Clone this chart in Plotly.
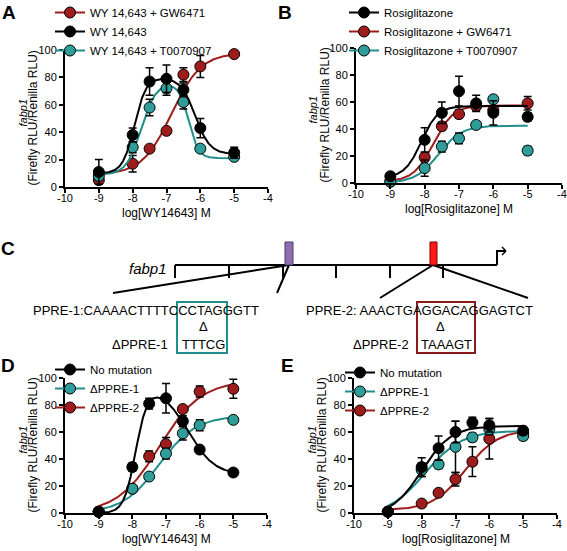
import numpy as np
import plotly.graph_objects as go

W, H = 567, 551

# ---------------- data ----------------
conc = [-9, -8, -7.5, -7, -6.5, -6, -5]

# Panel A
A_gw = [5, 17, 28, 41, 82, 88, 97]
A_gw_err = [2, 6, 2, 2, 5, 8, 2]
A_wy = [11, 38, 77, 79, 71, 43, 25]
A_wy_err = [9, 5, 10, 10, 5, 7, 4]
A_t = [8, 29, 58, 72, 62, 28, 22]
A_t_err = [2, 4, 6, 5, 5, 2, 2]
A_names = ["WY 14,643 + GW6471", "WY 14,643", "WY 14,643 + T0070907"]

# Panel B
B_rosi = [5, 32, 52, 68, 59, 52, 49]
B_rosi_err = [1, 9, 8, 11, 6, 9, 3]
B_gw = [1, 19, 42, 51, 57, 54, 59]
B_gw_err = [1, 3, 3, 3, 3, 3, 5]
B_t = [1, 11, 27, 33, 43, 62, 24]
B_t_err = [1, 6, 4, 4, 2, 2, 3]
B_names = ["Rosiglitazone", "Rosiglitazone + GW6471", "Rosiglitazone + T0070907"]

# Panel D
D_nm = [1, 34, 81, 85, 68, 47, 30]
D_nm_err = [1, 3, 4, 11, 4, 2, 2]
D_p1 = [1, 18, 27, 44, 59, 65, 69]
D_p1_err = [1, 2, 2, 4, 5, 4, 2]
D_p2 = [1, 18, 42, 51, 77, 90, 92]
D_p2_err = [1, 2, 4, 5, 2, 4, 7]
DE_names = ["No mutation", "ΔPPRE-1", "ΔPPRE-2"]

# Panel E
E_nm = [1, 34, 48, 60, 67, 65, 61]
E_nm_err = [2, 7, 9, 8, 4, 5, 3]
E_p1 = [1, 32, 36, 49, 56, 62, 57]
E_p1_err = [2, 5, 3, 19, 3, 4, 3]
E_p2 = [1, 7, 15, 25, 38, 55, 59]
E_p2_err = [1, 2, 2, 5, 11, 15, 3]

# fitted-curve parameters (sigmoid: bottom, top, logEC50, hill)
# (bell: bottom1, top, bottom2, logEC50_1, n1, logEC50_2, n2)
A_gw_fit = [9, 98, -6.85, 1.0]
A_wy_fit = [10, 80, 24, -7.95, 2.5, -6.15, 2.0]
A_t_fit = [9, 76, 21, -7.75, 2.0, -6.35, 3.0]
B_rosi_fit = [4, 57, -8.1, 1.8]
B_gw_fit = [1, 57.5, -7.75, 1.5]
B_t_fit = [0, 42.5, -7.6, 1.3]
D_nm_fit = [0, 94, 28, -7.9, 2.5, -6.355, 1.09]
D_p1_fit = [0, 72, -7.2, 0.8]
D_p2_fit = [0, 98, -7.2, 0.7]
E_nm_fit = [-2, 64.5, -8.0, 1.0]
E_p1_fit = [-2, 61, -7.9, 0.8]
E_p2_fit = [2, 62, -6.7, 0.9]

x_ticks = [-10, -9, -8, -7, -6, -5, -4]
y_ticks = [0, 20, 40, 60, 80, 100]

RED = "#9e1c1c"
TEAL = "#2f9e9a"
TEAL_LINE = "#1f8f8b"
BLACK = "#000000"
FONT = "Liberation Sans, Arial, sans-serif"

# ---------------- helpers ----------------
xs = np.linspace(-9, -5, 300)


def sigmoid(p):
    b, t, ec, n = p
    return b + (t - b) / (1 + 10 ** ((ec - xs) * n))


def bell(p):
    b1, t, b2, ec1, n1, ec2, n2 = p
    s1 = 1 / (1 + 10 ** ((ec1 - xs) * n1))
    s2 = 1 / (1 + 10 ** ((ec2 - xs) * n2))
    return b1 + (t - b1) * s1 - (t - b2) * s2


def X(p):
    return p / W


def Y(p):
    return 1 - p / H


fig = go.Figure()


def add_series(k, vals, errs, curve, name, fill, lcolor):
    xa = "x" if k == 1 else "x%d" % k
    ya = "y" if k == 1 else "y%d" % k
    fig.add_trace(go.Scatter(x=xs, y=curve, mode="lines", xaxis=xa, yaxis=ya,
                             line=dict(color=lcolor, width=2), showlegend=False,
                             hoverinfo="skip"))
    fig.add_trace(go.Scatter(x=conc, y=vals, mode="markers", xaxis=xa, yaxis=ya,
                             error_y=dict(type="data", array=errs, color="black",
                                          thickness=1.5, width=4),
                             marker=dict(size=11, color=fill,
                                         line=dict(color="black", width=1)),
                             cliponaxis=False, showlegend=False, name=name))


def add_legend_item(name, fill, lcolor, legend):
    fig.add_trace(go.Scatter(x=[None], y=[None], mode="lines+markers", name=name,
                             line=dict(color=lcolor, width=2),
                             marker=dict(size=11, color=fill,
                                         line=dict(color="black", width=1)),
                             legend=legend, showlegend=True))


# Panel A
add_series(1, A_gw, A_gw_err, sigmoid(A_gw_fit), A_names[0], RED, RED)
add_series(1, A_t, A_t_err, bell(A_t_fit), A_names[2], TEAL, TEAL_LINE)
add_series(1, A_wy, A_wy_err, bell(A_wy_fit), A_names[1], BLACK, BLACK)
add_legend_item(A_names[0], RED, RED, "legend")
add_legend_item(A_names[1], BLACK, BLACK, "legend")
add_legend_item(A_names[2], TEAL, TEAL_LINE, "legend")

# Panel B
add_series(2, B_gw, B_gw_err, sigmoid(B_gw_fit), B_names[1], RED, RED)
add_series(2, B_t, B_t_err, sigmoid(B_t_fit), B_names[2], TEAL, TEAL_LINE)
add_series(2, B_rosi, B_rosi_err, sigmoid(B_rosi_fit), B_names[0], BLACK, BLACK)
add_legend_item(B_names[0], BLACK, BLACK, "legend2")
add_legend_item(B_names[1], RED, RED, "legend2")
add_legend_item(B_names[2], TEAL, TEAL_LINE, "legend2")

# Panel D
add_series(3, D_p2, D_p2_err, sigmoid(D_p2_fit), DE_names[2], RED, RED)
add_series(3, D_p1, D_p1_err, sigmoid(D_p1_fit), DE_names[1], TEAL, TEAL_LINE)
add_series(3, D_nm, D_nm_err, bell(D_nm_fit), DE_names[0], BLACK, BLACK)
add_legend_item(DE_names[0], BLACK, BLACK, "legend3")
add_legend_item(DE_names[1], TEAL, TEAL_LINE, "legend3")
add_legend_item(DE_names[2], RED, RED, "legend3")

# Panel E
add_series(4, E_p2, E_p2_err, sigmoid(E_p2_fit), DE_names[2], RED, RED)
add_series(4, E_p1, E_p1_err, sigmoid(E_p1_fit), DE_names[1], TEAL, TEAL_LINE)
add_series(4, E_nm, E_nm_err, sigmoid(E_nm_fit), DE_names[0], BLACK, BLACK)
add_legend_item(DE_names[0], BLACK, BLACK, "legend4")
add_legend_item(DE_names[1], TEAL, TEAL_LINE, "legend4")
add_legend_item(DE_names[2], RED, RED, "legend4")

# ---------------- axes ----------------
panels = {
    1: dict(x0=65, x1=268, y0=50, y1=187),
    2: dict(x0=356, x1=562, y0=48, y1=183),
    3: dict(x0=65, x1=267, y0=378, y1=513),
    4: dict(x0=354, x1=557, y0=378, y1=513),
}
xtitles = {1: "log[WY14643] M", 2: "log[Rosiglitazone] M",
           3: "log[WY14643] M", 4: "log[Rosiglitazone] M"}

axis_common = dict(showline=True, linecolor="black", linewidth=2, ticks="outside",
                   ticklen=4, tickwidth=2, tickcolor="black", showgrid=False,
                   zeroline=False, tickfont=dict(family=FONT, size=11, color="black"),
                   fixedrange=True, automargin=False)

annotations = []


def note(x, y, text, size=12, angle=0, xanchor="center"):
    annotations.append(dict(x=X(x), y=Y(y), xref="paper", yref="paper", text=text,
                            showarrow=False, textangle=angle, xanchor=xanchor,
                            yanchor="middle",
                            font=dict(family=FONT, size=size, color="black")))


for k, p in panels.items():
    sx = "xaxis" if k == 1 else "xaxis%d" % k
    sy = "yaxis" if k == 1 else "yaxis%d" % k
    ya = "y" if k == 1 else "y%d" % k
    xa = "x" if k == 1 else "x%d" % k
    fig.layout[sx] = dict(domain=[X(p["x0"]), X(p["x1"])], range=[-10, -4],
                          anchor=ya, tickvals=x_ticks, ticklabelstandoff=-4,
                          ticktext=[str(v) for v in x_ticks], **axis_common)
    fig.layout[sy] = dict(domain=[Y(p["y1"]), Y(p["y0"])], range=[0, 100],
                          anchor=xa, tickvals=y_ticks,
                          ticktext=[str(v) for v in y_ticks], **axis_common)
    cx = (p["x0"] + p["x1"]) / 2
    cy = (p["y0"] + p["y1"]) / 2
    note(cx, p["y1"] + 26, xtitles[k], size=12)
    note(p["x0"] - 43, cy - 6, "<i>fabp1</i>", size=11, angle=-90)
    note(p["x0"] - 32, cy, "(Firefly RLU/Renilla RLU)", size=12, angle=-90)

# panel letters
for letter, (lx, ly) in {"A": (9, 12), "B": (285, 12), "C": (8, 248),
                         "D": (8, 365), "E": (287, 365)}.items():
    note(lx, ly, "<b>%s</b>" % letter, size=19)

# ---------------- diagram C ----------------
shapes = []


def line(x0, y0, x1, y1, color="black", width=2):
    shapes.append(dict(type="line", xref="paper", yref="paper", x0=X(x0), y0=Y(y0),
                       x1=X(x1), y1=Y(y1), line=dict(color=color, width=width)))


def rect(x0, y0, x1, y1, color, fill=None, width=2):
    shapes.append(dict(type="rect", xref="paper", yref="paper", x0=X(x0), y0=Y(y0),
                       x1=X(x1), y1=Y(y1), line=dict(color=color, width=width),
                       fillcolor=fill if fill else "rgba(0,0,0,0)"))


main_y = 265
line(175, main_y, 497, main_y)
for tx in [175, 229, 283, 336, 390, 443]:
    line(tx, main_y, tx, main_y + 13)
# promoter arrow
line(497, main_y, 497, 251)
line(496, 251, 506, 251)
line(502, 247, 506, 251, width=1.5)
line(502, 255, 506, 251, width=1.5)
# diagonals
line(289, main_y, 113, 293)
line(289, main_y, 277, 293)
line(433, main_y, 380, 298)
line(433, main_y, 528, 298)
# PPRE boxes on gene
rect(285, 242, 293, main_y, "#4a3a66", "#8d6fb0", width=1)
rect(430, 242, 437, main_y, "#7a0000", "#ff1a1a", width=1)
# mutation boxes
rect(177, 302, 227, 353, TEAL_LINE)
rect(417, 302, 475, 353, "#8b1a1a")

note(148, 268, "<i>fabp1</i>", size=15)
note(31, 311, "PPRE-1:CAAAACTTTTCCCTAGGGTT", size=13, xanchor="left")
note(304, 311, "PPRE-2: AAACTGAGGACAGGAGTCT", size=13, xanchor="left")
note(203, 326, "Δ", size=13)
note(440, 326, "Δ", size=13)
note(140, 344, "ΔPPRE-1", size=13)
note(203, 344, "TTTCG", size=13)
note(381, 344, "ΔPPRE-2", size=13)
note(446, 344, "TAAAGT", size=13)

legend_common = dict(bgcolor="rgba(0,0,0,0)", font=dict(family=FONT, size=11.5, color="black"),
                     xanchor="left", yanchor="top", traceorder="normal",
                     itemwidth=30, tracegroupgap=0)

fig.update_layout(
    width=W, height=H, margin=dict(l=0, r=0, t=0, b=0, autoexpand=False),
    paper_bgcolor="white", plot_bgcolor="white",
    showlegend=True,
    legend=dict(x=X(50), y=Y(-2), **legend_common),
    legend2=dict(x=X(344), y=Y(-2), **legend_common),
    legend3=dict(x=X(50), y=Y(355), **legend_common),
    legend4=dict(x=X(340), y=Y(358), **legend_common),
    annotations=annotations,
    shapes=shapes,
)

fig.write_html("out.html", config={"displayModeBar": False},
               post_script="document.body.style.margin='0px';")
